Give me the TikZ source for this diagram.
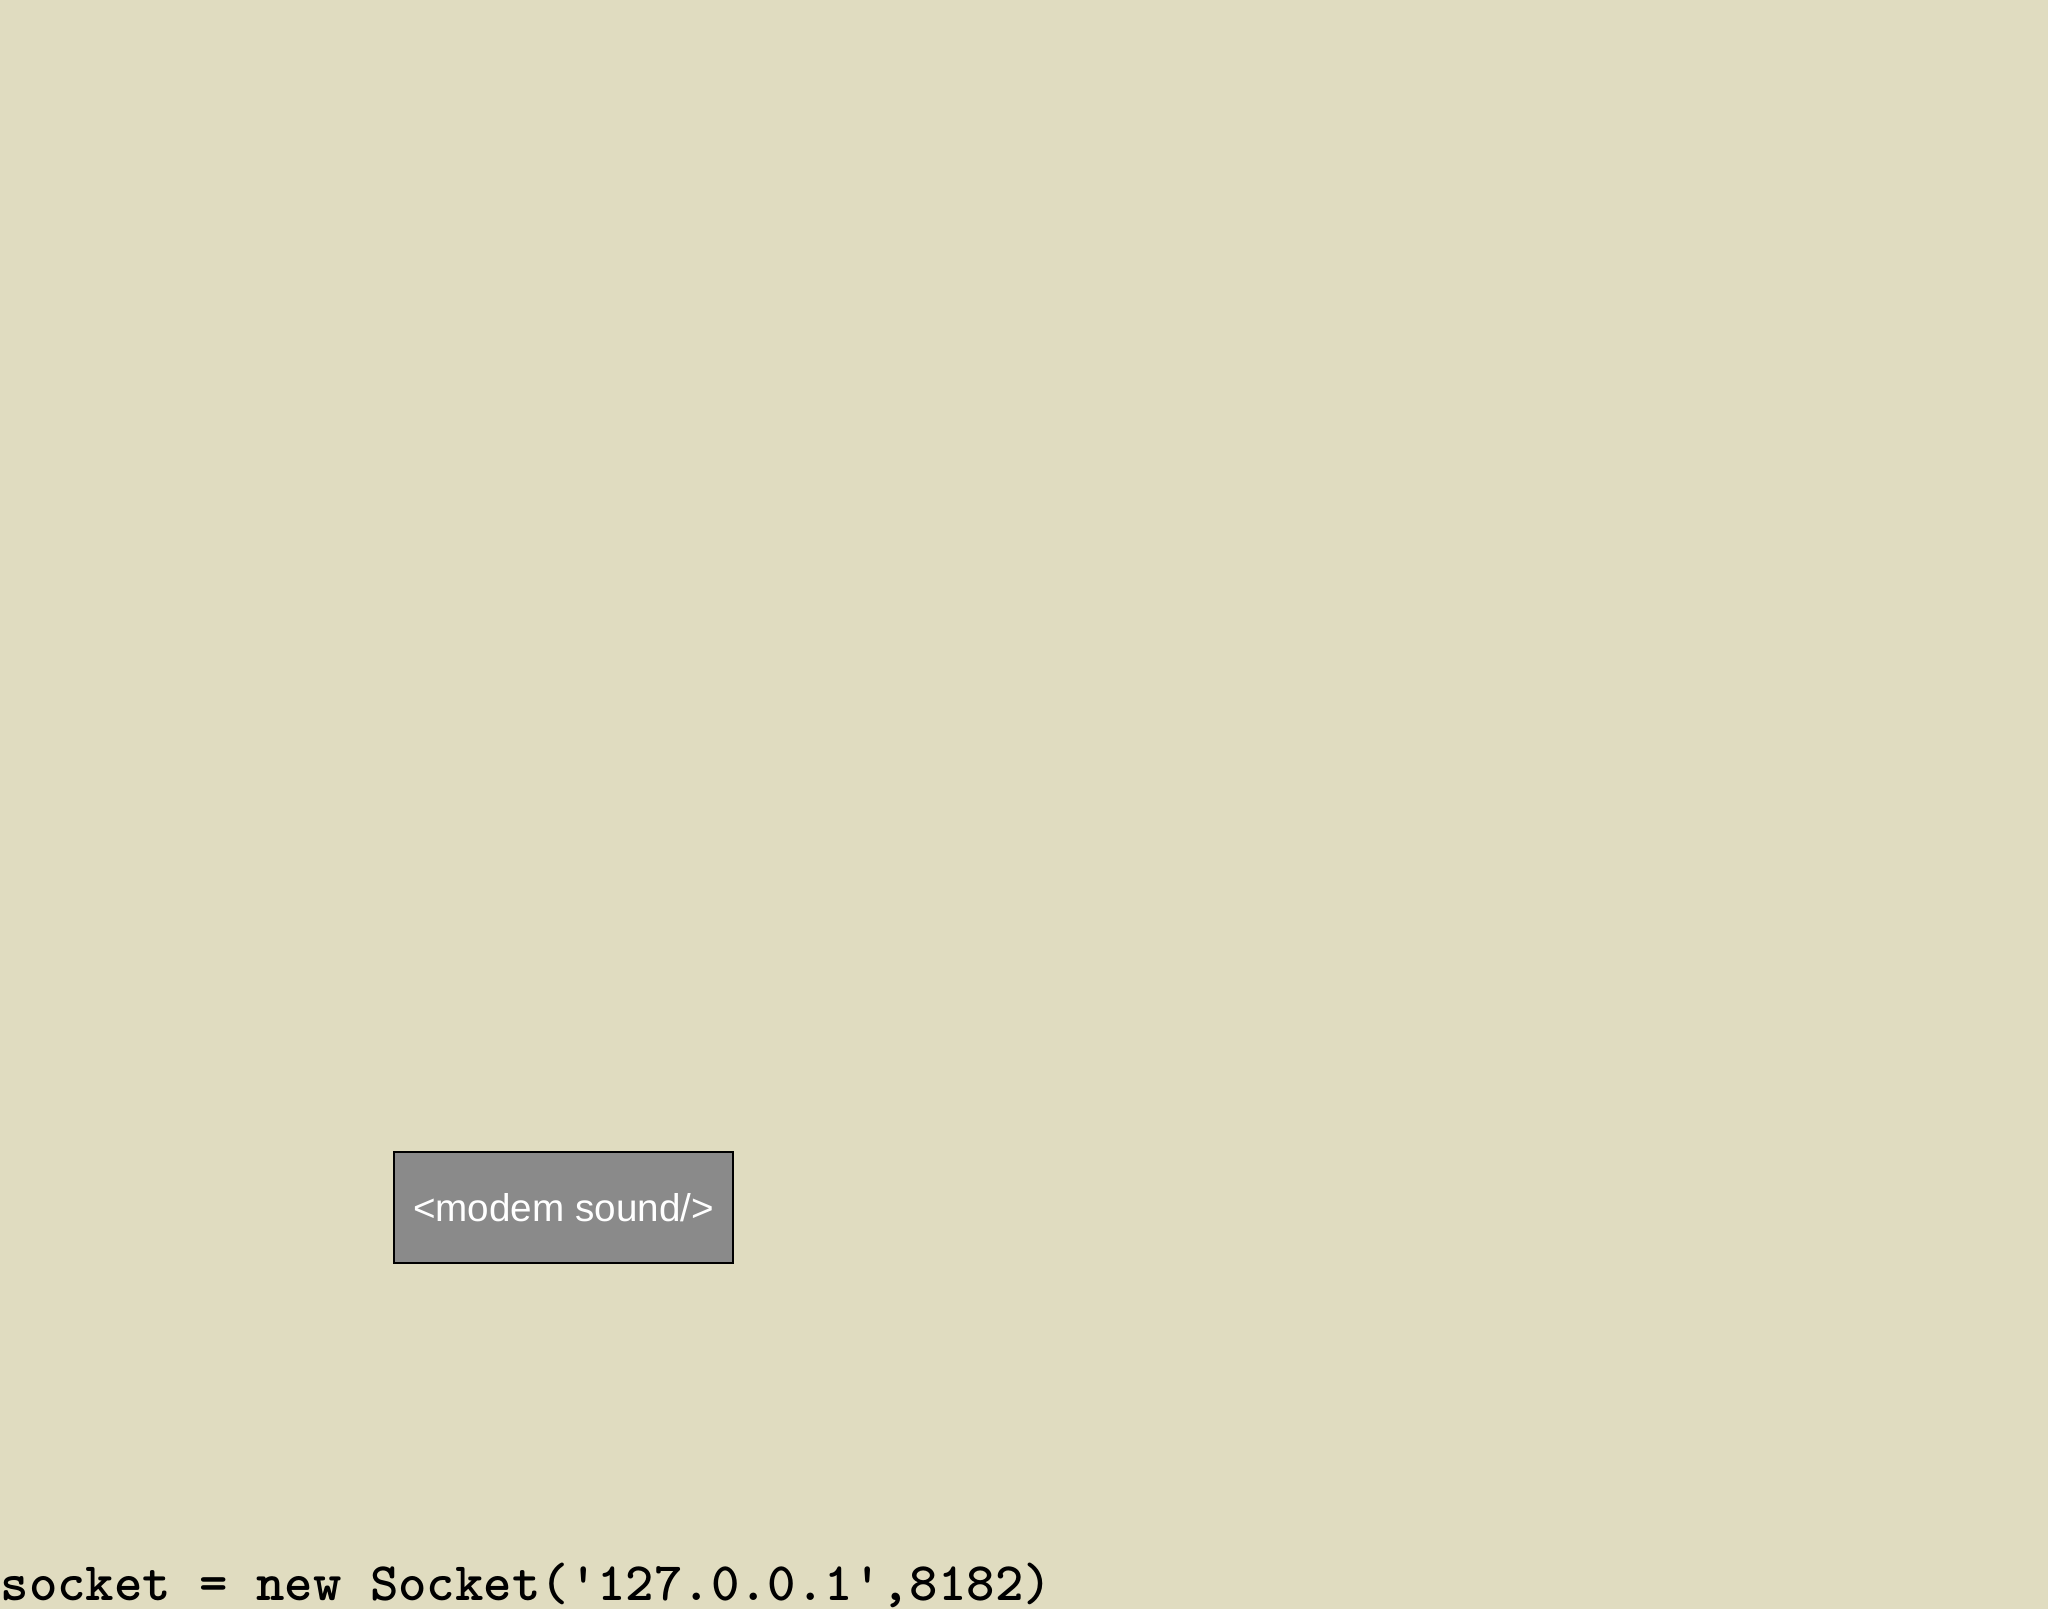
\documentclass[tikz,border=0pt]{standalone}
\usepackage{fontspec}
\setmainfont{Liberation Sans}
\definecolor{paper}{RGB}{224,220,192}
\definecolor{boxgrey}{RGB}{138,138,138}
\begin{document}
\begin{tikzpicture}[soundbox/.style={draw=black,fill=boxgrey,text=white,line width=0.8pt,minimum width=3.39cm,minimum height=1.11cm,inner sep=0pt,font=\fontsize{11}{13}\selectfont}]
			\fill[paper] (0,0) rectangle (20.48,16.09);
			\useasboundingbox (0,0) rectangle (20.48,16.09);

			\node[soundbox] (modem) at (5.635,4.015) {<modem sound/>};
			\node[anchor=base west,inner sep=0pt,font=\ttfamily\bfseries\fontsize{15.4}{18}\selectfont] (socket) at (0,0.08) {socket = new Socket('127.0.0.1',8182)};
		\end{tikzpicture}
\end{document}
